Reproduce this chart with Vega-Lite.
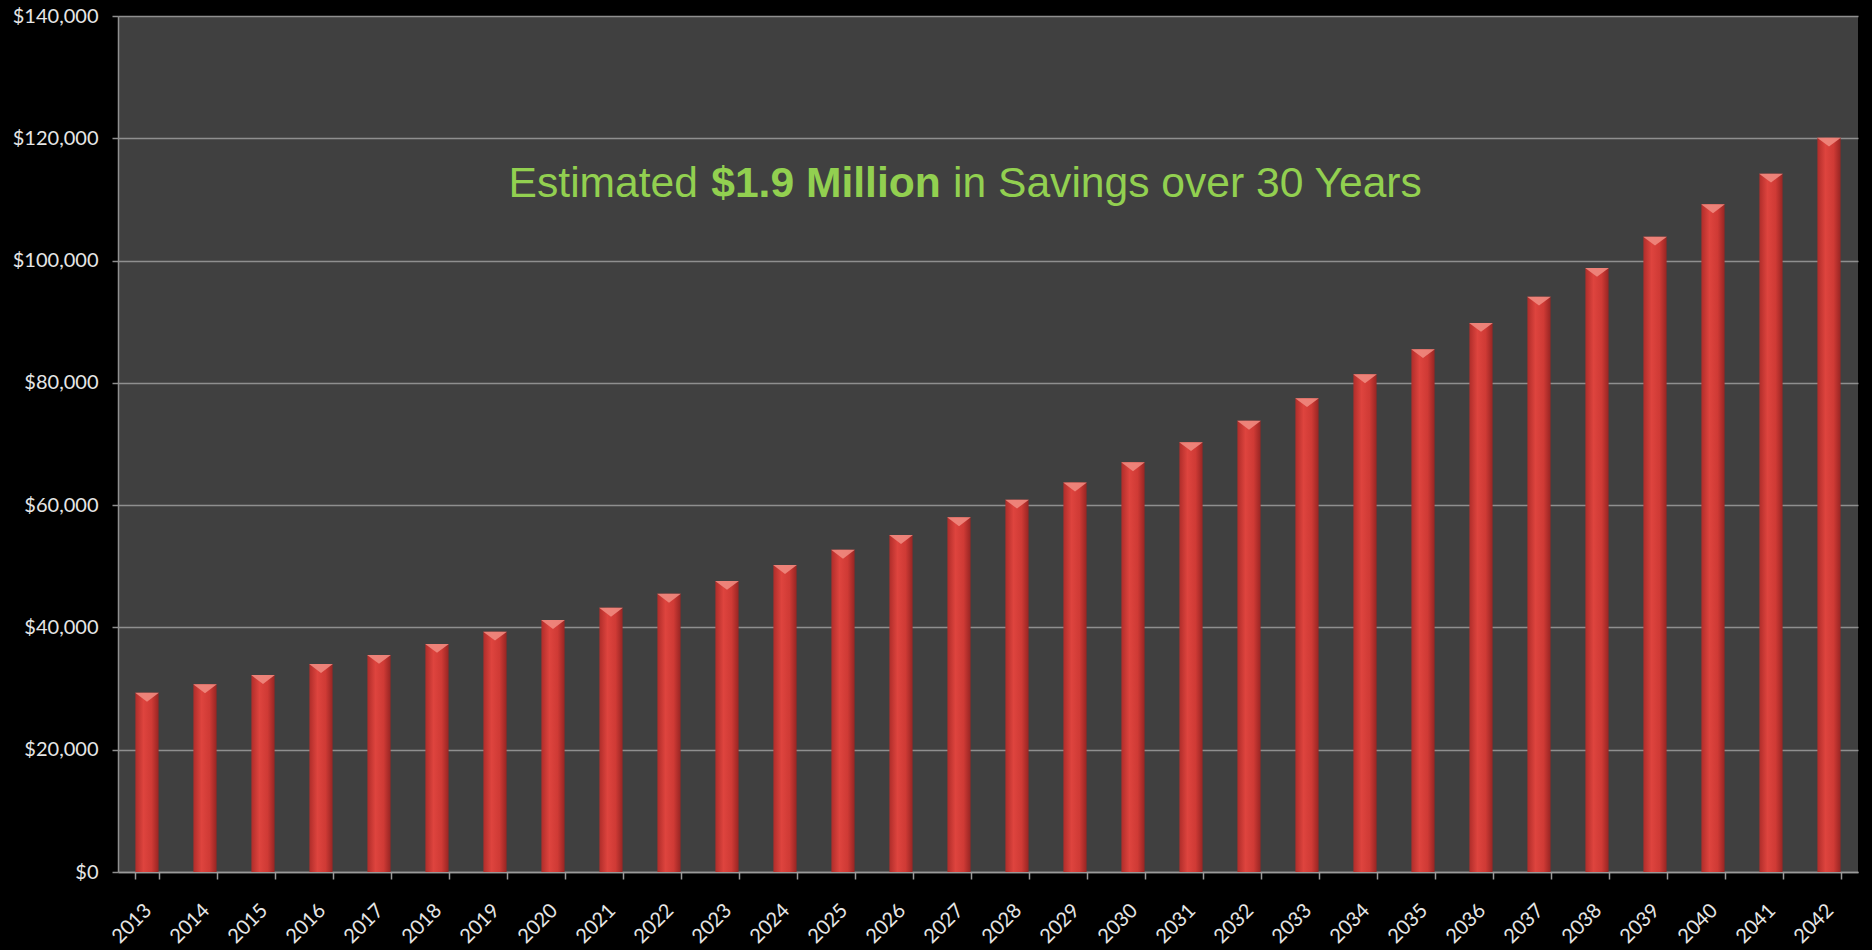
{
  "$schema": "https://vega.github.io/schema/vega-lite/v6.json",
  "width": 1740,
  "height": 856,
  "autosize": {"type": "none"},
  "padding": {"left": 118, "top": 16, "right": 14, "bottom": 78},
  "background": "#000000",
  "config": {
    "view": {"fill": "#404040", "stroke": null},
    "font": "Lato"
  },
  "datasets": {
    "savings": [
      {"year": "2013", "savings": 29300},
      {"year": "2014", "savings": 30700},
      {"year": "2015", "savings": 32200},
      {"year": "2016", "savings": 34000},
      {"year": "2017", "savings": 35500},
      {"year": "2018", "savings": 37300},
      {"year": "2019", "savings": 39300},
      {"year": "2020", "savings": 41200},
      {"year": "2021", "savings": 43200},
      {"year": "2022", "savings": 45500},
      {"year": "2023", "savings": 47600},
      {"year": "2024", "savings": 50200},
      {"year": "2025", "savings": 52700},
      {"year": "2026", "savings": 55100},
      {"year": "2027", "savings": 58000},
      {"year": "2028", "savings": 60900},
      {"year": "2029", "savings": 63700},
      {"year": "2030", "savings": 67000},
      {"year": "2031", "savings": 70300},
      {"year": "2032", "savings": 73800},
      {"year": "2033", "savings": 77500},
      {"year": "2034", "savings": 81400},
      {"year": "2035", "savings": 85500},
      {"year": "2036", "savings": 89800},
      {"year": "2037", "savings": 94100},
      {"year": "2038", "savings": 98800},
      {"year": "2039", "savings": 103900},
      {"year": "2040", "savings": 109200},
      {"year": "2041", "savings": 114200},
      {"year": "2042", "savings": 120100}
    ]
  },
  "layer": [
    {
      "data": {"name": "savings"},
      "mark": {
        "type": "bar",
        "color": {
          "gradient": "linear", "x1": 0, "x2": 1, "y1": 0, "y2": 0,
          "stops": [
            {"offset": 0, "color": "#b02d2a"},
            {"offset": 0.35, "color": "#de443e"},
            {"offset": 0.7, "color": "#cf3a35"},
            {"offset": 1, "color": "#972523"}
          ]
        }
      },
      "encoding": {
        "x": {
          "field": "year", "type": "nominal", "sort": null,
          "scale": {"paddingInner": 0.6, "paddingOuter": 0.3},
          "axis": {
            "title": null,
            "labelAngle": -45,
            "labelAlign": "right",
            "labelBaseline": "middle",
            "labelFontSize": 20,
            "labelColor": "#e6e6e6",
            "labelPadding": 28,
            "labelOffset": 1,
            "tickBand": "extent",
            "tickSize": 7,
            "tickColor": "#9a9a9a",
            "tickWidth": 1.5,
            "domainColor": "#9a9a9a",
            "domainWidth": 1.5,
            "grid": false
          }
        },
        "y": {
          "field": "savings", "type": "quantitative",
          "scale": {"domain": [0, 140000], "nice": false},
          "axis": {
            "title": null,
            "values": [0, 20000, 40000, 60000, 80000, 100000, 120000, 140000],
            "format": "$,.0f",
            "labelFontSize": 20,
            "labelColor": "#e6e6e6",
            "labelPadding": 14,
            "tickSize": 6,
            "tickColor": "#8f8f8f",
            "tickWidth": 1.5,
            "domainColor": "#8f8f8f",
            "domainWidth": 1.5,
            "gridColor": "#8f8f8f",
            "gridWidth": 1.5
          }
        }
      }
    },
    {
      "data": {"name": "savings"},
      "mark": {
        "type": "point",
        "shape": "M-1,0 L1,0 L0,0.75 Z",
        "size": 560,
        "filled": true,
        "color": "#ef8a80",
        "opacity": 0.9
      },
      "encoding": {
        "x": {"field": "year", "type": "nominal", "sort": null},
        "y": {"field": "savings", "type": "quantitative"}
      }
    },
    {
      "data": {"values": [{"year": "2025", "value": 110400, "label": "Estimated"}]},
      "mark": {"type": "text", "align": "right", "baseline": "alphabetic", "dx": -145, "font": "Liberation Sans", "fontSize": 42.6, "color": "#92d050"},
      "encoding": {
        "x": {"field": "year", "type": "nominal"},
        "y": {"field": "value", "type": "quantitative"},
        "text": {"field": "label"}
      }
    },
    {
      "data": {"values": [{"year": "2025", "value": 110400, "label": "$1.9 Million"}]},
      "mark": {"type": "text", "align": "center", "baseline": "alphabetic", "dx": -17, "font": "Liberation Sans", "fontSize": 42.6, "fontWeight": "bold", "color": "#92d050"},
      "encoding": {
        "x": {"field": "year", "type": "nominal"},
        "y": {"field": "value", "type": "quantitative"},
        "text": {"field": "label"}
      }
    },
    {
      "data": {"values": [{"year": "2025", "value": 110400, "label": "in Savings over 30 Years"}]},
      "mark": {"type": "text", "align": "left", "baseline": "alphabetic", "dx": 110, "font": "Liberation Sans", "fontSize": 42.6, "color": "#92d050"},
      "encoding": {
        "x": {"field": "year", "type": "nominal"},
        "y": {"field": "value", "type": "quantitative"},
        "text": {"field": "label"}
      }
    }
  ]
}
